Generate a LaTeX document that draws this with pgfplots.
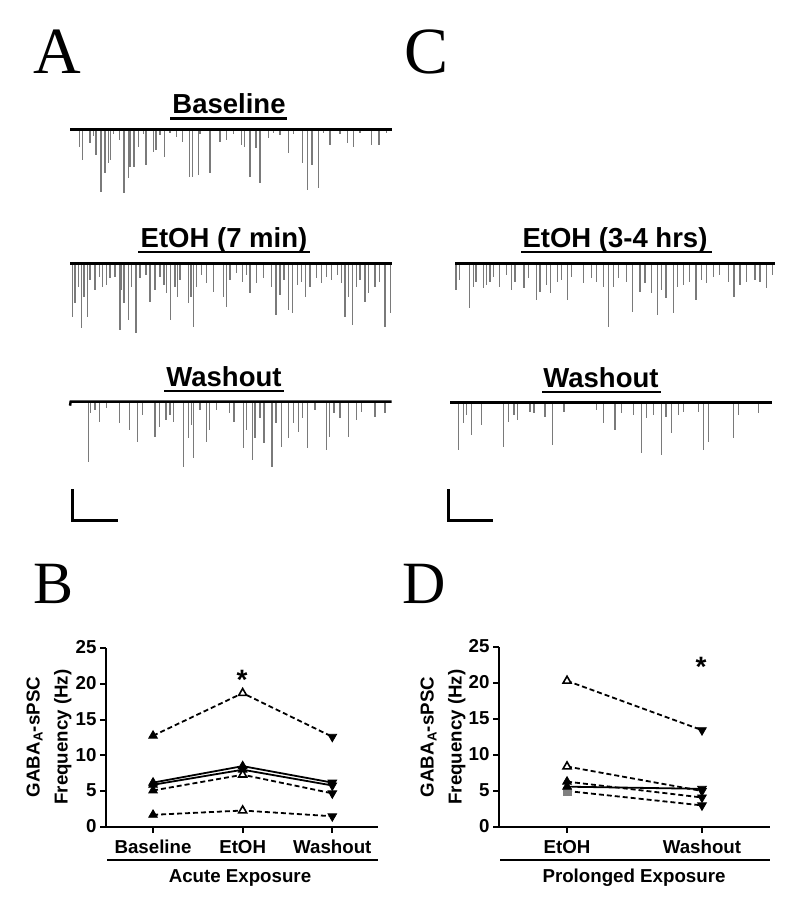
\documentclass[border=0pt]{standalone}
\usepackage{fontspec}
\setmainfont{Liberation Sans}
\newfontfamily\serifletter{Liberation Serif}
\usepackage{pgfplots}
\pgfplotsset{compat=1.18}
\newcommand\tfont{\fontsize{27.5}{30}\selectfont\bfseries}
\newcommand\lfont{\fontsize{18.7}{28}\selectfont\bfseries}
\newcommand\pfontA{\serifletter\fontsize{66}{70}\selectfont}
\newcommand\pfontB{\serifletter\fontsize{60}{64}\selectfont}
\pgfplotsset{
 trace/.style={anchor=south west, width=340pt, height=85pt, scale only axis,
   xmin=0, xmax=1020, ymin=-240, ymax=15, hide axis, clip=false},
 spikes/.style={ycomb, black!52, line width=1.2pt, mark=none},
 basel/.style={black, line width=2.5pt, mark=none},
 dsh/.style={black, line width=1.8pt, dash pattern=on 5pt off 3pt, mark=none},
 sld/.style={black, line width=1.8pt, mark=none},
 mF/.style={only marks, mark=triangle*, mark size=5pt, mark options={solid, draw=black, fill=black, line width=0.8pt}},
 mO/.style={only marks, mark=triangle*, mark size=4.6pt, mark options={solid, draw=black, fill=white, line width=1.6pt}},
 mD/.style={only marks, mark=triangle*, mark size=5pt, mark options={solid, draw=black, fill=black, rotate=180, line width=0.8pt}},
 mS/.style={only marks, mark=square*, mark size=3.8pt, mark options={solid, draw=gray, fill=gray}},
 freq/.style={anchor=south west, scale only axis, ymin=0, ymax=25,
   axis x line*=bottom, axis y line*=left,
   axis line style={line width=2pt, black},
   ytick={0,5,10,15,20,25},
   tick align=outside, major tick length=6pt,
   tick style={line width=2pt, black},
   /pgf/number format/assume math mode=true,
   tick label style={font=\lfont},
   typeset ticklabels with strut,
   xticklabel style={yshift=3pt},
   clip=false},
}
\begin{document}
\begin{tikzpicture}
\useasboundingbox (0,0) rectangle (800pt,913pt);

% ---------- Panel A: Baseline trace ----------
\begin{axis}[trace, at={(60pt,703.67pt)}]
\addplot[spikes] coordinates {
(58,-52) (68,-92) (90,-42) (100,-20) (108,-77) (123,-187) (135,-132) (145,-102)
(152,-92) (160,-15) (178,-32) (192,-192) (205,-147) (210,-112) (222,-112)
(235,-52) (250,-15) (258,-107) (280,-67) (288,-62) (300,-18) (313,-82)
(330,-12) (350,-22) (368,-37) (388,-142) (397,-142) (416,-137) (420,-15)
(450,-132) (480,-37) (500,-32) (520,-14) (545,-47) (553,-52) (570,-142)
(588,-57) (600,-162) (625,-27) (640,-12) (660,-17) (685,-72) (700,-15)
(728,-102) (742,-182) (756,-107) (775,-177) (790,-12) (810,-47) (840,-14)
(862,-42) (880,-52) (900,-12) (935,-47) (957,-47) (980,-10)};
\addplot[basel] coordinates {(30,0) (995,0)};
\end{axis}

% ---------- Panel A: EtOH (7 min) trace ----------
\begin{axis}[trace, at={(60pt,569.67pt)}]
\addplot[spikes] coordinates {
(38,-160) (45,-120) (55,-70) (65,-195) (72,-100) (82,-160) (90,-50) (105,-80)
(118,-40) (128,-70) (140,-65) (150,-45) (165,-40) (180,-200) (185,-80)
(192,-120) (205,-170) (215,-70) (228,-210) (240,-45) (258,-35) (270,-115)
(285,-80) (300,-40) (312,-65) (320,-90) (332,-170) (345,-70) (352,-100)
(360,-50) (385,-120) (393,-100) (400,-190) (410,-70) (425,-35) (440,-60)
(460,-85) (490,-100) (500,-130) (510,-50) (530,-30) (548,-55) (560,-35)
(570,-90) (590,-60) (610,-45) (635,-70) (648,-155) (660,-95) (672,-50)
(685,-140) (698,-150) (712,-65) (725,-55) (737,-100) (750,-70) (770,-45)
(785,-60) (800,-40) (815,-50) (832,-35) (845,-60) (855,-160) (865,-100)
(878,-185) (890,-70) (900,-50) (915,-115) (925,-90) (945,-70) (958,-55)
(975,-190) (992,-150)};
\addplot[basel] coordinates {(30,0) (995,0)};
\end{axis}

% ---------- Panel A: Washout trace ----------
\begin{axis}[trace, at={(60pt,431.33pt)}]
\addplot[spikes] coordinates {
(85,-180) (92,-35) (105,-25) (118,-60) (140,-20) (178,-65) (208,-85)
(232,-120) (248,-40) (285,-105) (298,-75) (318,-55) (330,-40) (340,-60)
(370,-195) (385,-110) (395,-70) (400,-170) (420,-25) (440,-120) (448,-85)
(470,-25) (508,-35) (522,-60) (550,-140) (560,-85) (578,-175) (585,-110)
(600,-50) (612,-125) (636,-195) (648,-65) (665,-135) (685,-110) (700,-65)
(715,-90) (728,-50) (742,-140) (765,-25) (800,-145) (808,-105) (822,-35)
(840,-50) (865,-105) (890,-55) (905,-30) (945,-45) (975,-35)};
\addplot[basel] coordinates {(30,-12) (32,0) (995,0)};
\end{axis}

% ---------- Panel C: EtOH (3-4 hrs) trace ----------
\begin{axis}[trace, at={(440pt,569.67pt)}]
\addplot[spikes] coordinates {
(48,-80) (58,-50) (88,-135) (100,-70) (108,-55) (130,-75) (140,-65) (150,-55)
(160,-40) (178,-70) (200,-35) (215,-80) (225,-55) (252,-75) (265,-45)
(290,-110) (300,-85) (320,-65) (332,-90) (352,-55) (365,-50) (382,-110)
(395,-40) (430,-60) (455,-45) (470,-55) (490,-70) (505,-190) (520,-70)
(535,-45) (560,-55) (578,-145) (600,-85) (615,-60) (635,-90) (652,-155)
(665,-80) (678,-105) (700,-150) (712,-70) (730,-65) (748,-55) (768,-110)
(785,-50) (800,-60) (820,-40) (838,-35) (865,-55) (882,-100) (900,-65)
(920,-55) (945,-50) (960,-55) (980,-75) (998,-35)};
\addplot[basel] coordinates {(45,0) (1005,0)};
\end{axis}

% ---------- Panel C: Washout trace ----------
\begin{axis}[trace, at={(440pt,430.33pt)}]
\addplot[spikes] coordinates {
(55,-142) (70,-62) (80,-37) (95,-97) (125,-67) (190,-132) (205,-57)
(222,-37) (232,-52) (270,-27) (282,-32) (315,-42) (338,-127) (372,-27)
(470,-22) (490,-62) (525,-82) (545,-32) (580,-37) (605,-152) (620,-47)
(640,-37) (665,-157) (678,-42) (695,-92) (715,-37) (730,-27) (775,-27)
(790,-142) (805,-117) (880,-107) (895,-37) (955,-32)};
\addplot[basel] coordinates {(30,0) (995,0)};
\end{axis}

% ---------- Panel B ----------
\begin{axis}[freq, at={(106pt,86pt)}, width=272pt, height=179pt,
  xmin=-0.525, xmax=2.51, xtick={0,1,2},
  xticklabels={Baseline,EtOH,Washout}]
\addplot[dsh] coordinates {(0,1.7) (1,2.3) (2,1.5)};
\addplot[dsh] coordinates {(0,5.1) (1,7.3) (2,4.7)};
\addplot[sld] coordinates {(0,5.9) (1,8.0) (2,5.8)};
\addplot[sld] coordinates {(0,6.2) (1,8.5) (2,6.2)};
\addplot[dsh] coordinates {(0,12.75) (1,18.7) (2,12.6)};
% baseline markers (filled up-triangles)
\addplot[mF] coordinates {(0,1.7) (0,5.1) (0,5.9) (0,6.2) (0,12.75)};
% EtOH markers: filled for solid series, open for dashed series
\addplot[mF] coordinates {(1,8.0) (1,8.5)};
\addplot[mO] coordinates {(1,2.3) (1,7.3) (1,18.7)};
% washout markers (filled down-triangles)
\addplot[mD] coordinates {(2,1.5) (2,4.7) (2,5.8) (2,6.2) (2,12.6)};
\end{axis}

% ---------- Panel D ----------
\begin{axis}[freq, at={(499pt,86pt)}, width=271pt, height=180pt,
  xmin=-0.504, xmax=1.504, xtick={0,1},
  xticklabels={EtOH,Washout}]
\addplot[dsh] coordinates {(0,5.0) (1,3.0)};
\addplot[dsh] coordinates {(0,6.3) (1,4.1)};
\addplot[sld] coordinates {(0,5.6) (1,5.3)};
\addplot[dsh] coordinates {(0,8.4) (1,5.0)};
\addplot[dsh] coordinates {(0,20.3) (1,13.45)};
% EtOH markers
\addplot[mS] coordinates {(0,5.0)};
\addplot[mF] coordinates {(0,6.3) (0,5.6)};
\addplot[mO] coordinates {(0,8.4) (0,20.3)};
% washout markers
\addplot[mD] coordinates {(1,3.0) (1,4.1) (1,5.3) (1,5.0) (1,13.45)};
\end{axis}

% ---------- Overlay in pixel coordinates ----------
\begin{axis}[at={(0pt,0pt)}, anchor=south west, width=800pt, height=913pt,
  scale only axis, xmin=0, xmax=800, ymin=0, ymax=913, y dir=reverse,
  hide axis, clip=false]
% title underlines
\addplot[black, line width=2.5pt] coordinates {(170,118.5) (287,118.5)};
\addplot[black, line width=2.5pt] coordinates {(138,252) (310,252)};
\addplot[black, line width=2.5pt] coordinates {(164,391) (284,391)};
\addplot[black, line width=2.5pt] coordinates {(521,252) (712,252)};
\addplot[black, line width=2.5pt] coordinates {(542,392) (661,392)};
% scale bars
\addplot[black, line width=3pt] coordinates {(72,489) (72,520) (118,520)};
\addplot[black, line width=3pt] coordinates {(448,489) (448,520) (493,520)};
% exposure bars
\addplot[black, line width=2.5pt] coordinates {(107,860) (378,860)};
\addplot[black, line width=2.5pt] coordinates {(500,860) (770,860)};
% titles
\node[anchor=base, font=\tfont, inner sep=0pt] at (229,113) {Baseline};
\node[anchor=base, font=\tfont, inner sep=0pt] at (224,247) {EtOH (7 min)};
\node[anchor=base, font=\tfont, inner sep=0pt] at (224,386) {Washout};
\node[anchor=base, font=\tfont, inner sep=0pt] at (615,247) {EtOH (3-4 hrs)};
\node[anchor=base, font=\tfont, inner sep=0pt] at (601,387) {Washout};
% panel letters
\node[anchor=base west, font=\pfontA, inner sep=0pt] at (33,73) {A};
\node[anchor=base west, font=\pfontA, inner sep=0pt] at (404,73) {C};
\node[anchor=base west, font=\pfontB, inner sep=0pt] at (33,603) {B};
\node[anchor=base west, font=\pfontB, inner sep=0pt] at (402,603) {D};
% axis labels
\node[rotate=90, align=center, font=\lfont] at (49,737) {GABA\textsubscript{A}-sPSC\\Frequency (Hz)};
\node[rotate=90, align=center, font=\lfont] at (443,737) {GABA\textsubscript{A}-sPSC\\Frequency (Hz)};
\node[anchor=base, font=\lfont, inner sep=0pt] at (240,882) {Acute Exposure};
\node[anchor=base, font=\lfont, inner sep=0pt] at (634,882) {Prolonged Exposure};
% significance stars
\node[anchor=base, font=\fontsize{28}{30}\selectfont\bfseries, inner sep=0pt] at (242,689) {*};
\node[anchor=base, font=\fontsize{28}{30}\selectfont\bfseries, inner sep=0pt] at (701,676) {*};
\end{axis}
\end{tikzpicture}
\end{document}
